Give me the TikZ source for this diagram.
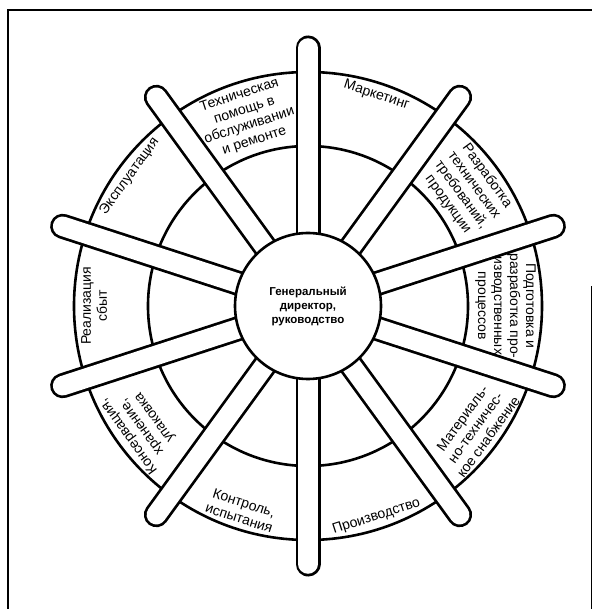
\documentclass[tikz,border=0pt]{standalone}
\usepackage{fontspec}
\setmainfont{Liberation Sans}
\tikzset{
  ring/.style={line width=2.6pt, color=black},
  spokeedge/.style={line width=25pt, line cap=round, color=black},
  spokefill/.style={line width=19.5pt, line cap=round, color=white},
  hub/.style={circle, draw, fill=white, line width=2.6pt,
    minimum size=146pt, inner sep=0pt, align=center,
    font=\bfseries\fontsize{11.5}{14}\selectfont},
  sector/.style={align=center, inner sep=1pt,
    font=\fontsize{14}{16}\selectfont}
}
\begin{document}
\begin{tikzpicture}[x=1pt, y=1pt]
  \useasboundingbox (-308,-303) rectangle (284,306);
  % Frame of the scanned page
  \draw[line width=2.5pt] (-300,-303) -- (-300,296) -- (284,296);
  \draw[line width=1pt] (283,-303) -- (283,20);

  % Rings of the wheel
  \draw[ring] (0,0) circle (234pt);
  \draw[ring] (0,0) circle (160pt);

  % Spokes with rounded ends
  \foreach \a in {90,126,...,414} {
    \draw[spokeedge] (0,0) -- (\a:258pt);
    \draw[spokefill] (0,0) -- (\a:258pt);
  }

  % Hub
  \node[hub] (hub) at (0,0) {Генеральный\\директор,\\руководство};

  % Sector labels
  \node[sector, rotate=18, anchor=north] (service) at (108:229pt) {Техническая\\помощь в\\обслуживании\\и ремонте};
  \node[sector, rotate=-18, anchor=north] (marketing) at (72:229pt) {Маркетинг};
  \node[sector, rotate=-54, anchor=north] (specs) at (36:229pt) {Разработка\\технических\\требований,\\продукции};
  \node[sector, rotate=-90, anchor=north] (process) at (0:229pt) {Подготовка и\\разработка про-\\изводственных\\процессов};
  \node[sector, rotate=54, anchor=south] (supply) at (-36:229pt) {Материаль-\\но-техничес-\\кое снабжение};
  \node[sector, rotate=18, anchor=south] (production) at (-72:229pt) {Производство};
  \node[sector, rotate=-18, anchor=south] (testing) at (-108:229pt) {Контроль,\\испытания};
  \node[sector, rotate=126, anchor=north] (storage) at (-144:229pt) {Консервация,\\хранение,\\упаковка};
  \node[sector, rotate=90, anchor=north] (sales) at (180:228pt) {Реализация\\сбыт};
  \node[sector, rotate=54, anchor=north] (operation) at (144:228pt) {Эксплуатация};
\end{tikzpicture}
\end{document}
